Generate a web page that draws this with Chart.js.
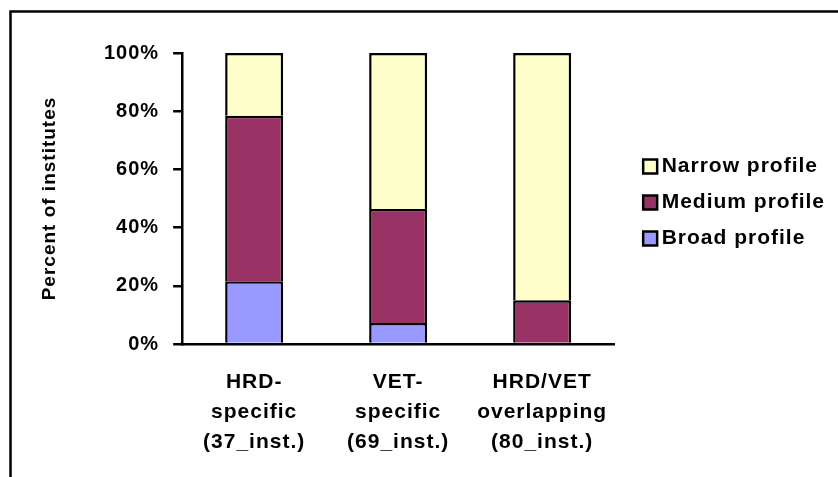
<!DOCTYPE html>
<html>
<head>
<meta charset="utf-8">
<script src="https://cdn.jsdelivr.net/npm/chart.js@4.4.1/dist/chart.umd.min.js"></script>
<style>
  html, body { margin: 0; padding: 0; background: #fff; }
  canvas { display: block; }
</style>
</head>
<body>
<canvas id="chart" width="838" height="477"></canvas>
<script>
// Institute groups (multi-line category labels)
const categories = [
  ['HRD-', 'specific', '(37_inst.)'],
  ['VET-', 'specific', '(69_inst.)'],
  ['HRD/VET', 'overlapping', '(80_inst.)']
];

// Share of institutes per profile type, in percent
const broadProfile  = [21.6, 7.2, 0];
const mediumProfile = [56.8, 39.2, 15];
const narrowProfile = [21.6, 53.6, 85];

// Value axis ticks
const percentTicks = [0, 20, 40, 60, 80, 100];
const percentTickLabels = ['0%', '20%', '40%', '60%', '80%', '100%'];

Chart.defaults.font.family = '"Liberation Sans", Arial, sans-serif';
Chart.defaults.color = '#000';

// Slightly wider text tracking, applied to the canvas context before measuring and drawing
const textSpacing = {
  id: 'textSpacing',
  beforeUpdate(chart) { chart.ctx.letterSpacing = '1px'; },
  beforeDraw(chart) { chart.ctx.letterSpacing = '1px'; }
};

// White background and the open frame along the top and left edges
const frame = {
  id: 'frame',
  beforeDraw(chart) {
    const c = chart.ctx;
    c.save();
    c.fillStyle = '#fff';
    c.fillRect(0, 0, chart.width, chart.height);
    c.strokeStyle = '#000';
    c.lineWidth = 2.5;
    c.strokeRect(10.5, 11.5, chart.width + 20, chart.height + 20);
    c.restore();
  }
};

// Legend sits a little apart from the plot and is centred on the plot area
const legendPlacement = {
  id: 'legendPlacement',
  afterLayout(chart) {
    const l = chart.legend;
    const ca = chart.chartArea;
    l.left += 20;
    l.right += 20;
    l.top = ca.top + 4;
    l.bottom = ca.bottom + 4;
    l.height = l.bottom - l.top;
  }
};

new Chart(document.getElementById('chart'), {
  type: 'bar',
  data: {
    labels: categories,
    datasets: [
      { label: 'Broad profile',  data: broadProfile,  backgroundColor: '#9999FF', borderColor: '#000', borderWidth: 2.5 },
      { label: 'Medium profile', data: mediumProfile, backgroundColor: '#993366', borderColor: '#000', borderWidth: 2.5 },
      { label: 'Narrow profile', data: narrowProfile, backgroundColor: '#FFFFCC', borderColor: '#000', borderWidth: 2.5 }
    ]
  },
  options: {
    responsive: false,
    animation: false,
    devicePixelRatio: 1,
    layout: { padding: { top: 53, bottom: -3, left: 0, right: 23 } },
    datasets: { bar: { categoryPercentage: 1, barPercentage: 0.403 } },
    plugins: {
      legend: {
        position: 'right',
        reverse: true,
        labels: {
          usePointStyle: true,
          pointStyle: 'rect',
          boxWidth: 2,
          boxHeight: 14,
          padding: 15,
          color: '#000',
          font: { size: 21, weight: 'bold' }
        }
      },
      tooltip: { enabled: false }
    },
    scales: {
      x: {
        stacked: true,
        grid: { display: false, drawTicks: false },
        border: { display: true, color: '#000', width: 2.5 },
        ticks: {
          padding: 23,
          color: '#000',
          maxRotation: 0,
          autoSkip: false,
          font: { size: 21, weight: 'bold', lineHeight: '30px' }
        }
      },
      y: {
        stacked: true,
        min: 0,
        max: 100,
        ticks: {
          stepSize: 20,
          padding: 14,
          color: '#000',
          font: { size: 20, weight: 'bold' },
          callback: v => percentTickLabels[percentTicks.indexOf(v)]
        },
        grid: { drawOnChartArea: false, drawTicks: true, tickLength: 9, color: '#000', lineWidth: 2.5 },
        border: { display: true, color: '#000', width: 2.5 },
        title: {
          display: true,
          text: 'Percent of institutes',
          color: '#000',
          font: { size: 19, weight: 'bold', lineHeight: 1 },
          padding: { top: 40, bottom: 31 }
        }
      }
    }
  },
  plugins: [textSpacing, frame, legendPlacement]
});
</script>
</body>
</html>
